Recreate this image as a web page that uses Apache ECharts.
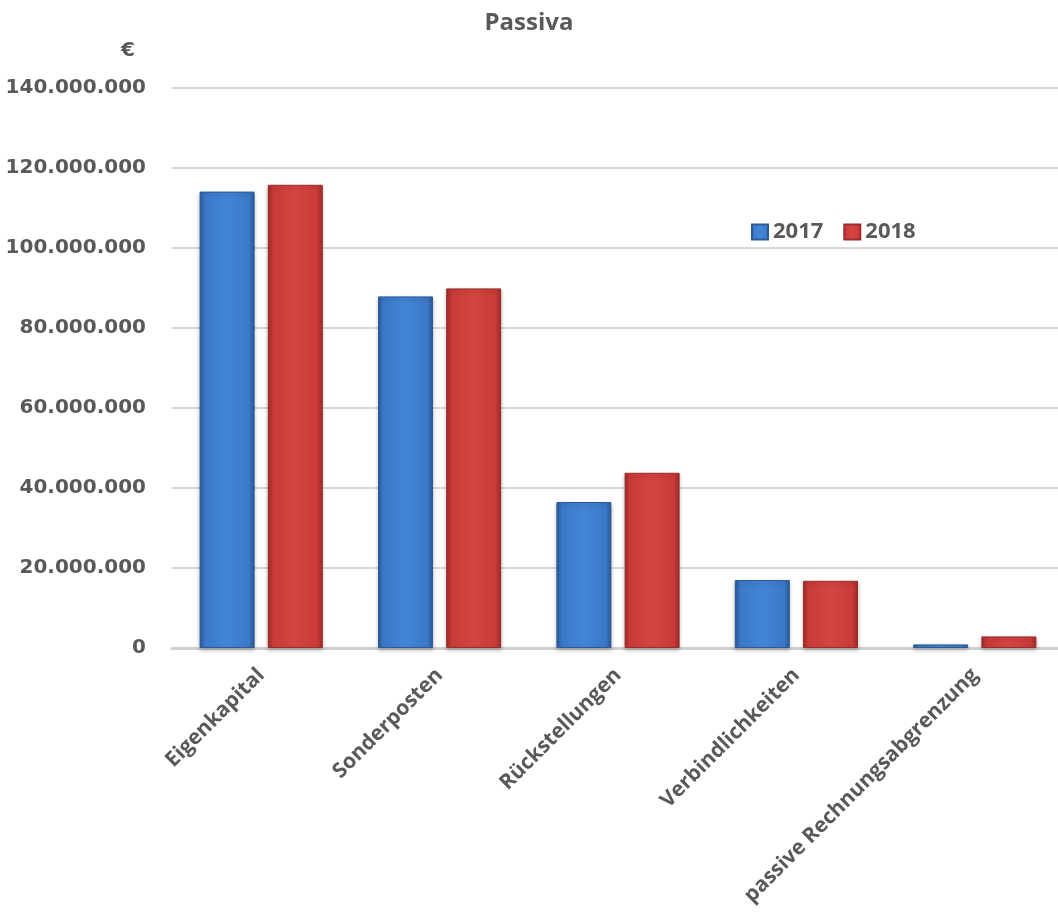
<!DOCTYPE html>
<html lang="de">
  <head>
    <meta charset="UTF-8" />
    <title>Passiva</title>
    <style>
      html, body { margin: 0; padding: 0; background: #fff; }
      #main { width: 1058px; height: 923px; }
    </style>
  </head>
  <body>
    <div id="main"></div>
    <script src="https://cdn.jsdelivr.net/npm/echarts@6/dist/echarts.min.js"></script>
    <script>
      // Daten
      const categories = ["Eigenkapital", "Sonderposten", "Rückstellungen", "Verbindlichkeiten", "passive Rechnungsabgrenzung"];
      const values2017 = [114100000, 87900000, 36500000, 17000000, 900000];
      const values2018 = [115800000, 89900000, 43800000, 16800000, 2900000];
      const yTicks = [0, 20000000, 40000000, 60000000, 80000000, 100000000, 120000000, 140000000];

      const grey = "#595959";

      // Balken mit "Fase"-Effekt: dunkle Ränder, heller Kern
      function bevel(edge, core, light) {
        return new echarts.graphic.LinearGradient(0, 0, 1, 0, [
          { offset: 0, color: edge },
          { offset: 0.1, color: core },
          { offset: 0.5, color: light },
          { offset: 0.9, color: core },
          { offset: 1, color: edge }
        ]);
      }

      const fmt = (v) => String(v).replace(/\B(?=(\d{3})+(?!\d))/g, ".");

      const myChart = echarts.init(document.getElementById("main"));
      const option = {
        animation: false,
        title: [
          {
            text: "Passiva",
            left: "center",
            top: 6,
            textStyle: { fontFamily: "Open Sans", fontWeight: "bold", fontSize: 24, color: grey }
          },
          {
            text: "€",
            left: 116,
            top: 36,
            textStyle: { fontFamily: "DejaVu Sans", fontWeight: "bold", fontSize: 20, color: grey }
          }
        ],
        legend: {
          left: 746,
          top: 216,
          itemWidth: 16,
          itemHeight: 15,
          itemGap: 20,
          icon: "rect",
          textStyle: { fontFamily: "Open Sans", fontWeight: "bold", fontSize: 22, color: grey }
        },
        grid: { left: 172, top: 88, width: 892, height: 560, outerBoundsMode: "none" },
        xAxis: {
          type: "category",
          data: categories,
          axisTick: { show: false },
          axisLine: { lineStyle: { color: "#d0d0d0", width: 3 } },
          axisLabel: {
            interval: 0,
            rotate: 45,
            margin: 24,
            fontFamily: "Open Sans",
            fontWeight: "bold",
            fontSize: 21,
            color: grey
          }
        },
        yAxis: {
          type: "value",
          min: yTicks[0],
          max: yTicks[yTicks.length - 1],
          interval: yTicks[1] - yTicks[0],
          axisLine: { show: false },
          axisTick: { show: false },
          splitLine: { lineStyle: { color: "#d9d9d9", width: 2 } },
          axisLabel: {
            margin: 26,
            formatter: fmt,
            fontFamily: "DejaVu Sans",
            fontWeight: "bold",
            fontSize: 20,
            color: grey
          }
        },
        series: [
          {
            name: "2017",
            type: "bar",
            data: values2017,
            barWidth: 55,
            barGap: "24%",
            itemStyle: {
              color: bevel("#2a5a98", "#3b78c8", "#4285d6"),
              borderColor: "#2b5a94",
              borderWidth: 1,
              shadowColor: "rgba(0,0,0,0.25)",
              shadowBlur: 4,
              shadowOffsetY: 2
            }
          },
          {
            name: "2018",
            type: "bar",
            data: values2018,
            barWidth: 55,
            itemStyle: {
              color: bevel("#9e2c2a", "#c93a38", "#d44442"),
              borderColor: "#9a2d2b",
              borderWidth: 1,
              shadowColor: "rgba(0,0,0,0.25)",
              shadowBlur: 4,
              shadowOffsetY: 2
            }
          }
        ]
      };
      myChart.setOption(option);
    </script>
  </body>
</html>
